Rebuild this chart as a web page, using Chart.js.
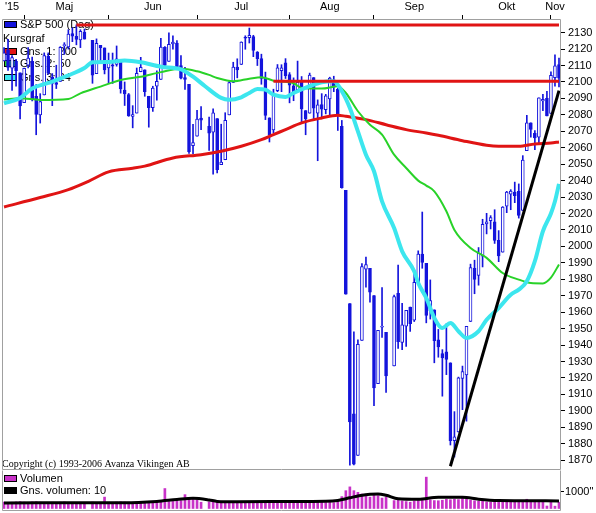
<!DOCTYPE html>
<html>
<head>
<meta charset="utf-8">
<script src="https://cdn.jsdelivr.net/npm/chart.js@4.4.1/dist/chart.umd.min.js"></script>
<style>
  html, body { margin:0; padding:0; background:#fff; }
  #wrap { position:relative; width:596px; height:513px; overflow:hidden; background:#fff; }
  canvas { position:absolute; left:0; }
  #main { top:0; }
  #vol { top:470px; }
</style>
</head>
<body>
<div id="wrap">
<canvas id="main" width="596" height="471"></canvas>
<canvas id="vol" width="596" height="43"></canvas>
</div>
<script>
// ---------- DATA ----------
const dates = ['Apr 24','Apr 27','Apr 28','Apr 29','Apr 30',
'May 1','May 4','May 5','May 6','May 7','May 8','May 11','May 12','May 13','May 14','May 15','May 18','May 19','May 20','May 21','May 22','May 25','May 26','May 27','May 28','May 29',
'Jun 1','Jun 2','Jun 3','Jun 4','Jun 5','Jun 8','Jun 9','Jun 10','Jun 11','Jun 12','Jun 15','Jun 16','Jun 17','Jun 18','Jun 19','Jun 22','Jun 23','Jun 24','Jun 25','Jun 26','Jun 29','Jun 30',
'Jul 1','Jul 2','Jul 3','Jul 6','Jul 7','Jul 8','Jul 9','Jul 10','Jul 13','Jul 14','Jul 15','Jul 16','Jul 17','Jul 20','Jul 21','Jul 22','Jul 23','Jul 24','Jul 27','Jul 28','Jul 29','Jul 30','Jul 31',
'Aug 3','Aug 4','Aug 5','Aug 6','Aug 7','Aug 10','Aug 11','Aug 12','Aug 13','Aug 14','Aug 17','Aug 18','Aug 19','Aug 20','Aug 21','Aug 24','Aug 25','Aug 26','Aug 27','Aug 28','Aug 31',
'Sep 1','Sep 2','Sep 3','Sep 4','Sep 7','Sep 8','Sep 9','Sep 10','Sep 11','Sep 14','Sep 15','Sep 16','Sep 17','Sep 18','Sep 21','Sep 22','Sep 23','Sep 24','Sep 25','Sep 28','Sep 29','Sep 30',
'Oct 1','Oct 2','Oct 5','Oct 6','Oct 7','Oct 8','Oct 9','Oct 12','Oct 13','Oct 14','Oct 15','Oct 16','Oct 19','Oct 20','Oct 21','Oct 22','Oct 23','Oct 26','Oct 27','Oct 28','Oct 29','Oct 30',
'Nov 2','Nov 3','Nov 4'];

const opens = [2112.8,2119.3,2108.4,2112.5,2105.5,
2087.4,2110.2,2112.6,2091.3,2080.0,2092.1,2115.6,2102.9,2099.6,2100.4,2122.1,2121.3,2129.5,2127.8,2125.6,2130.4,null,2125.3,2105.1,2122.3,2120.7,
2108.6,2110.4,2110.6,2112.4,2095.1,2092.3,2079.1,2081.1,2106.2,2107.4,2091.3,2084.3,2097.4,2101.6,2121.1,2112.5,2123.2,2123.6,2110.0,2102.6,2098.6,2061.2,
2067.0,2078.0,null,2073.0,2069.5,2077.7,2049.7,2052.7,2080.0,2099.7,2109.0,2110.6,2126.8,2126.9,2127.6,2118.2,2114.2,2102.2,2078.2,2070.8,2094.7,2106.8,2111.6,
2104.5,2097.7,2095.3,2100.9,2082.6,2081.0,2102.7,2081.1,2086.2,2083.2,2089.7,2101.1,2095.7,2073.0,2034.1,1965.2,1898.1,1872.8,1942.8,1986.1,1986.7,
1970.1,1916.5,1950.8,1947.8,null,1927.3,1971.5,1941.6,1951.5,1963.1,1955.1,1978.0,1995.3,1989.7,1960.8,1961.4,1943.2,1934.8,1935.9,1929.2,1881.9,1887.1,
1919.7,1921.8,1954.3,1986.6,1982.3,1994.0,2013.7,2015.7,2015.0,2003.7,1996.5,2024.4,2031.7,2033.1,2033.5,2021.9,2058.2,2075.1,2068.8,2066.5,2088.4,2090.0,
2080.8,2102.6,2110.6];

const highs = [2120.9,2125.9,2116.0,2113.7,2105.5,
2108.4,2120.9,2115.2,2098.4,2092.9,2117.7,2117.7,2105.1,2110.2,2121.5,2123.9,2131.8,2133.0,2134.7,2131.8,2132.2,null,2125.3,2126.2,2122.3,2120.7,
2117.6,2117.6,2121.9,2112.9,2100.0,2093.0,2085.6,2108.5,2115.0,2107.4,2091.3,2097.4,2106.8,2126.6,2121.6,2129.9,2128.0,2125.1,2116.0,2108.9,2098.6,2074.3,
2082.8,2085.1,null,2078.6,2083.7,2077.7,2074.3,2081.3,2100.7,2112.0,2114.1,2124.4,2128.1,2132.8,2128.4,2118.5,2116.9,2106.0,2078.2,2095.6,2110.6,2110.5,2114.2,
2105.7,2102.5,2112.7,2103.3,2082.6,2105.4,2102.7,2089.1,2092.9,2092.5,2102.9,2103.5,2096.2,2076.6,2034.1,1965.2,1948.0,1943.1,1989.6,1993.5,1986.7,
1970.1,1948.9,1975.0,1947.8,null,1970.4,1988.6,1965.3,1961.1,1963.1,1983.2,1997.3,2020.9,1989.7,1979.6,1961.4,1949.5,1937.2,1952.9,1929.2,1899.5,1920.5,
1927.2,1951.4,1989.2,1991.6,1999.3,2016.5,2020.1,2018.7,2022.3,2009.6,2024.2,2033.5,2034.5,2039.1,2038.0,2055.2,2079.7,2075.1,2070.4,2090.4,2092.5,2094.3,
2106.2,2116.5,2114.6];

const lows = [2112.8,2107.0,2094.9,2097.4,2077.6,
2087.4,2108.6,2088.5,2067.9,2075.0,2092.1,2104.6,2085.6,2096.0,2100.4,2116.8,2120.0,2124.5,2122.6,2120.9,2126.1,null,2099.2,2105.1,2112.9,2104.9,
2099.1,2099.1,2109.6,2093.2,2085.7,2079.1,2072.1,2081.1,2106.2,2091.3,2072.5,2082.1,2088.9,2101.6,2109.5,2112.5,2119.9,2108.6,2101.8,2095.4,2056.6,2056.3,
2067.0,2071.0,null,2058.4,2044.0,2044.7,2049.7,2052.7,2080.0,2099.7,2102.5,2110.6,2119.9,2123.7,2115.4,2110.0,2098.6,2077.1,2063.5,2069.1,2094.1,2094.1,2102.1,
2087.3,2088.6,2095.3,2075.5,2067.9,2081.0,2076.5,2052.1,2078.3,2080.6,2079.3,2094.1,2070.5,2035.4,1970.9,1867.0,1867.1,1872.8,1942.8,1975.2,1966.0,
1903.1,1916.5,1944.7,1911.2,null,1927.3,1937.9,1937.2,1939.2,1948.3,1954.3,1977.9,1986.7,1953.5,1955.8,1929.2,1932.6,1908.9,1922.0,1879.2,1871.9,1887.1,
1900.7,1893.7,1954.3,1971.2,1976.4,1987.5,2007.6,2010.6,2001.8,1990.7,1996.5,2020.5,2022.3,2026.6,2017.2,2021.9,2058.2,2066.5,2058.8,2063.1,2082.6,2079.3,
2080.8,2097.5,2097.0];

const closes = [2117.7,2108.9,2114.8,2106.9,2085.5,
2108.3,2114.5,2089.5,2080.2,2088.0,2116.1,2105.3,2099.1,2098.5,2121.1,2122.7,2129.2,2127.8,2125.9,2130.8,2126.1,null,2104.2,2123.5,2120.8,2107.4,
2111.7,2109.6,2114.1,2095.8,2092.8,2079.3,2080.2,2105.2,2108.9,2094.1,2084.4,2096.3,2100.4,2121.2,2110.0,2122.9,2124.2,2108.6,2102.3,2101.5,2057.6,2063.1,
2077.4,2076.8,null,2068.8,2081.3,2046.7,2051.3,2076.6,2099.6,2109.0,2107.4,2124.3,2126.6,2128.3,2119.2,2114.2,2102.2,2079.7,2067.6,2093.3,2108.6,2108.6,2103.8,
2098.0,2093.3,2099.8,2083.6,2077.6,2104.2,2084.1,2086.1,2083.4,2091.5,2102.4,2096.9,2079.6,2035.7,1970.9,1893.2,1867.6,1940.5,1987.7,1988.9,1972.2,
1913.9,1948.9,1951.1,1921.2,null,1969.4,1942.0,1952.3,1961.1,1953.0,1978.1,1995.3,1990.2,1958.0,1967.0,1942.7,1938.8,1932.2,1931.3,1881.8,1884.1,1920.0,
1923.8,1951.4,1987.1,1979.9,1995.8,2013.4,2014.9,2017.5,2003.7,1994.2,2023.9,2033.1,2033.7,2030.8,2018.9,2052.5,2075.2,2071.2,2065.9,2090.4,2089.4,2079.4,
2104.1,2109.8,2102.3];

// moving averages (sample dates + values)
const ma200Dates = ['Apr 24','May 7','May 18','May 25','Jun 1','Jun 9','Jun 12','Jun 23','Jul 2','Jul 9','Jul 16','Jul 23','Jul 28','Jul 31','Aug 6','Aug 13','Aug 19','Aug 21','Aug 28','Sep 4','Sep 11','Sep 18','Sep 23','Oct 1','Oct 9','Oct 14','Oct 21','Oct 27','Nov 2','Nov 4'];
const ma200Values = [2024,2029.7,2034.5,2039.6,2045.3,2047.5,2048.8,2053.8,2055.8,2057.9,2060.9,2064.9,2068,2071,2075.1,2078.1,2079.8,2079.1,2077.1,2074,2071,2069,2067.6,2064.3,2061.5,2060.9,2060.9,2062.3,2062.9,2063.5];

const ma50Dates = ['Apr 24','Apr 30','May 7','May 18','May 21','May 28','Jun 4','Jun 11','Jun 18','Jun 25','Jul 1','Jul 6','Jul 8','Jul 14','Jul 20','Jul 23','Jul 28','Aug 4','Aug 6','Aug 13','Aug 19','Aug 21','Aug 26','Aug 31','Sep 3','Sep 8','Sep 11','Sep 16','Sep 18','Sep 22','Sep 25','Sep 29','Oct 5','Oct 9','Oct 15','Oct 21','Oct 26','Oct 29','Nov 2','Nov 4'];
const ma50Values = [2089.3,2090.1,2089.1,2089.7,2093.1,2097.2,2101.2,2103.2,2106,2108,2106.5,2104.3,2102.4,2100.4,2102,2102.9,2100.8,2099.2,2096.4,2096,2097.4,2093.3,2082.2,2074,2068,2055.8,2047.7,2040,2037,2033.5,2021.4,2010,1999,1993,1983.8,1979.8,1977.7,1977.5,1981,1989];

const ma24Dates = ['Apr 24','Apr 30','May 5','May 11','May 18','May 22','May 26','Jun 1','Jun 5','Jun 11','Jun 18','Jun 25','Jun 30','Jul 3','Jul 9','Jul 13','Jul 16','Jul 20','Jul 22','Jul 24','Jul 28','Jul 31','Aug 4','Aug 10','Aug 13','Aug 18','Aug 20','Aug 24','Aug 26','Aug 28','Sep 1','Sep 3','Sep 8','Sep 10','Sep 15','Sep 16','Sep 18','Sep 22','Sep 24','Sep 28','Sep 30','Oct 2','Oct 7','Oct 9','Oct 14','Oct 19','Oct 21','Oct 23','Oct 27','Oct 29','Nov 2','Nov 3','Nov 4'];
const ma24Values = [2087,2090.3,2096,2099.4,2104,2108.5,2112,2112.2,2113,2112,2109.3,2107.7,2103.2,2097.4,2090.3,2089.2,2090.7,2093.3,2095.8,2095.3,2092.3,2090.9,2093.3,2097.4,2099.8,2100.4,2094.4,2084.2,2070,2055.8,2045.7,2027.4,2011.2,1997,1984.9,1977.7,1968.6,1956.5,1950.4,1953.4,1948.4,1944.3,1948.4,1955.4,1962.5,1970.6,1973.7,1978.8,1991,2009.2,2020,2027.4,2038];

// horizontal levels and trend line
const topLevelDates = ['May 20','Nov 4'];
const topLevelValues = [2134.7,2134.7];
const midLevelDates = ['Jul 28','Nov 4'];
const midLevelValues = [2100.4,2100.4];
const trendDates = ['Sep 28','Nov 4'];
const trendValues = [1866.3,2094.7];

// volume panel
const volumes = [390,360,380,400,420,
390,370,400,410,380,370,350,380,370,380,400,350,360,370,360,300,null,390,370,360,690,
380,370,390,400,390,380,370,390,380,350,370,380,400,430,1210,420,430,460,480,840,600,560,
520,380,null,400,450,490,440,400,380,370,360,380,400,360,370,380,400,420,430,400,420,380,400,
390,410,420,430,420,400,410,440,380,360,370,350,410,720,1080,1310,1080,980,880,740,690,
820,780,630,690,null,480,520,460,420,380,450,480,560,1900,520,480,470,500,560,530,560,540,
620,560,500,470,440,450,400,380,420,440,420,410,400,380,400,430,560,420,380,440,400,150,
380,140,380];
const volAvgDates = ['Apr 24','May 28','Jun 5','Jun 17','Jun 24','Jun 30','Jul 6','Jul 8','Jul 15','Jul 31','Aug 14','Aug 19','Aug 24','Aug 26','Aug 31','Sep 2','Sep 4','Sep 9','Sep 16','Sep 23','Oct 1','Oct 7','Oct 14','Oct 23','Nov 4'];
const volAvgValues = [340,345,345,430,547,620,520,430,410,420,440,490,650,760,870,880,800,590,560,680,680,560,480,470,460];

// tick labels
const yTicks = [1870,1880,1890,1900,1910,1920,1930,1940,1950,1960,1970,1980,1990,2000,2010,2020,2030,2040,2050,2060,2070,2080,2090,2100,2110,2120,2130];
const monthLabels = ["'15",'Maj','Jun','Jul','Aug','Sep','Okt','Nov'];
const monthLabelDates = ['Apr 28','May 15','Jun 16','Jul 16','Aug 17','Sep 15','Oct 16','Nov 3'];
const monthStartDates = ['May 1','Jun 1','Jul 1','Aug 3','Sep 1','Oct 1','Nov 2'];
const volTicks = [1000];
const legendLabels = ['S&P 500 (Dag)','Kursgraf','Gns. 1: 200','Gns. 2: 50','Gns. 3: 24'];
const volLegendLabels = ['Volumen','Gns. volumen: 10'];
const copyrightText = 'Copyright (c) 1993-2006 Avanza Vikingen AB';

// ---------- STYLE ----------
const BLUE = '#1414dc', RED = '#e01414', GREEN = '#28d228', CYAN = '#3ce6ee', MAGENTA = '#c832c8';
const FRAME = '#a0a0a0';
const FONT = '"Liberation Sans", Arial, sans-serif';

Chart.defaults.font.family = FONT;
Chart.defaults.font.size = 11;
Chart.defaults.color = '#000';

const labelAt = {};
monthLabelDates.forEach((d, i) => { labelAt[dates.indexOf(d)] = monthLabels[i]; });
const monthStartIdx = new Set(monthStartDates.map(d => dates.indexOf(d)));

const pts = (ds, vs) => ds.map((d, i) => ({ x: d, y: vs[i] }));
const noPad = s => { s.paddingTop = 0; s.paddingBottom = 0; s.paddingLeft = 0; s.paddingRight = 0; };

function framePlugin(id, sides) {
  return {
    id,
    afterDraw(chart) {
      const { ctx, chartArea: a } = chart;
      const l = Math.round(a.left) + 0.5, r = Math.round(a.right) - 0.5;
      const t = Math.round(a.top) + 0.5, b = Math.round(a.bottom) - 0.5;
      ctx.save();
      ctx.strokeStyle = FRAME; ctx.lineWidth = 1;
      ctx.beginPath();
      if (sides.includes('t')) { ctx.moveTo(l, t); ctx.lineTo(r, t); }
      if (sides.includes('b')) { ctx.moveTo(l, b); ctx.lineTo(r, b); }
      if (sides.includes('l')) { ctx.moveTo(l, t); ctx.lineTo(l, b); }
      if (sides.includes('r')) { ctx.moveTo(r, t); ctx.lineTo(r, b); }
      ctx.stroke();
      ctx.restore();
    }
  };
}

function box(ctx, color, x, y) {
  ctx.fillStyle = color; ctx.fillRect(x, y, 13, 7);
  ctx.strokeStyle = '#000'; ctx.lineWidth = 1; ctx.strokeRect(x + 0.5, y + 0.5, 12, 6);
}

const mainDecor = {
  id: 'mainDecor',
  beforeDatasetsDraw(chart) {
    const ctx = chart.ctx;
    ctx.save();
    ctx.font = '11px ' + FONT;
    ctx.textBaseline = 'middle';
    box(ctx, BLUE, 4, 21);
    ctx.fillStyle = '#000'; ctx.fillText(legendLabels[0], 20, 25);
    ctx.fillText(legendLabels[1], 3, 39);
    box(ctx, RED, 4, 48);
    ctx.fillStyle = '#000'; ctx.fillText(legendLabels[2], 20, 52);
    box(ctx, GREEN, 4, 60);
    ctx.fillStyle = '#000'; ctx.fillText(legendLabels[3], 20, 64);
    box(ctx, CYAN, 4, 74);
    ctx.fillStyle = '#000'; ctx.fillText(legendLabels[4], 20, 78);
    ctx.font = '10px "Liberation Serif", "Times New Roman", serif';
    ctx.textBaseline = 'alphabetic';
    ctx.fillText(copyrightText, 2, 467);
    ctx.restore();
  }
};

const volDecor = {
  id: 'volDecor',
  beforeDatasetsDraw(chart) {
    const ctx = chart.ctx;
    ctx.save();
    ctx.font = '11px ' + FONT;
    ctx.textBaseline = 'middle';
    box(ctx, MAGENTA, 4, 5);
    ctx.fillStyle = '#000'; ctx.fillText(volLegendLabels[0], 20, 8.5);
    box(ctx, '#000', 4, 17);
    ctx.fillStyle = '#000'; ctx.fillText(volLegendLabels[1], 20, 20.5);
    ctx.restore();
  }
};

// ---------- MAIN CHART ----------
new Chart(document.getElementById('main'), {
  type: 'bar',
  data: {
    labels: dates,
    datasets: [
      { type: 'line', data: pts(trendDates, trendValues), borderColor: '#000', borderWidth: 3, pointRadius: 0, order: 1 },
      { type: 'line', data: pts(topLevelDates, topLevelValues), borderColor: RED, borderWidth: 3, pointRadius: 0, order: 2 },
      { type: 'line', data: pts(midLevelDates, midLevelValues), borderColor: RED, borderWidth: 3, pointRadius: 0, order: 2 },
      { type: 'line', data: pts(ma24Dates, ma24Values), borderColor: CYAN, borderWidth: 4, pointRadius: 0, cubicInterpolationMode: 'monotone', order: 3 },
      { type: 'line', data: pts(ma50Dates, ma50Values), borderColor: GREEN, borderWidth: 2, pointRadius: 0, cubicInterpolationMode: 'monotone', order: 4 },
      { type: 'line', data: pts(ma200Dates, ma200Values), borderColor: RED, borderWidth: 3, pointRadius: 0, cubicInterpolationMode: 'monotone', order: 5 },
      { type: 'bar', data: dates.map((d, i) => opens[i] == null ? null : [opens[i], closes[i]]),
        backgroundColor: c => (closes[c.dataIndex] >= opens[c.dataIndex] ? '#ffffff' : BLUE),
        borderColor: BLUE, borderWidth: 1, borderSkipped: false, barThickness: 3, minBarLength: 1, grouped: false, order: 9 },
      { type: 'bar', data: dates.map((d, i) => lows[i] == null ? null : [lows[i], highs[i]]),
        backgroundColor: BLUE, borderWidth: 0, barThickness: 1, grouped: false, order: 10 }
    ]
  },
  options: {
    responsive: false, animation: false, events: [],
    layout: { padding: { left: 2, right: 0, top: 0, bottom: 1 } },
    plugins: { legend: { display: false }, tooltip: { enabled: false } },
    scales: {
      x: {
        position: 'top', offset: true,
        grid: { offset: false, drawOnChartArea: false, drawTicks: true, tickLength: 4,
                color: c => (monthStartIdx.has(c.index) ? '#000' : 'rgba(0,0,0,0)') },
        border: { display: false },
        ticks: { autoSkip: false, maxRotation: 0, minRotation: 0, padding: 1,
                 callback: (v, i) => labelAt[i] || '' },
        afterFit: s => { s.height = 19; noPad(s); }
      },
      y: {
        position: 'right', min: 1864.0, max: 2138.3,
        grid: { drawOnChartArea: false, drawTicks: true, tickLength: 4, color: '#000' },
        border: { display: false },
        ticks: { padding: 3, callback: v => String(v) },
        afterBuildTicks: s => { s.ticks = yTicks.map(v => ({ value: v })); },
        afterFit: s => { s.width = 35; noPad(s); }
      }
    }
  },
  plugins: [mainDecor, framePlugin('frameMain', 'tblr')]
});

// ---------- VOLUME CHART ----------
new Chart(document.getElementById('vol'), {
  type: 'bar',
  data: {
    labels: dates,
    datasets: [
      { type: 'line', data: pts(volAvgDates, volAvgValues), borderColor: '#000', borderWidth: 3, pointRadius: 0, cubicInterpolationMode: 'monotone', order: 1 },
      { type: 'bar', data: volumes, backgroundColor: MAGENTA, barThickness: 2, order: 2 }
    ]
  },
  options: {
    responsive: false, animation: false, events: [],
    layout: { padding: { left: 2, right: 0, top: 0, bottom: 2 } },
    plugins: { legend: { display: false }, tooltip: { enabled: false } },
    scales: {
      x: { display: false, offset: true },
      y: {
        position: 'right', min: -152, max: 2333,
        grid: { drawOnChartArea: false, drawTicks: true, tickLength: 3, color: '#000' },
        border: { display: false },
        ticks: { padding: 1, callback: v => v + '"' },
        afterBuildTicks: s => { s.ticks = volTicks.map(v => ({ value: v })); },
        afterFit: s => { s.width = 35; noPad(s); }
      }
    }
  },
  plugins: [volDecor, framePlugin('frameVol', 'blr')]
});
</script>
</body>
</html>
